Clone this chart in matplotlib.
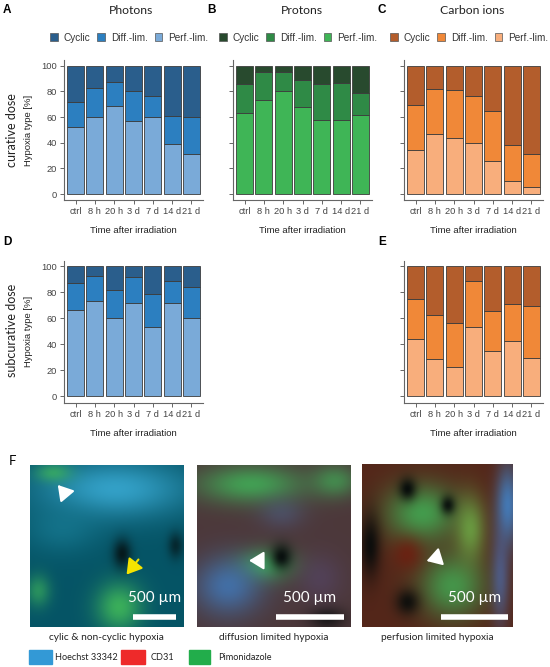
import numpy as np
import matplotlib
matplotlib.use("Agg")
import matplotlib.pyplot as plt
from matplotlib.patches import Rectangle, Patch

plt.rcParams['font.family'] = ['Liberation Sans', 'DejaVu Sans']
TITLE_FONT = ['Lato', 'DejaVu Sans']

# data, shares in % per time point
times = ["ctrl", "8 h", "20 h", "3 d", "7 d", "14 d", "21 d"]
types = ["Cyclic", "Diff.-lim.", "Perf.-lim."]

# A: photons, curative dose
ph_cur_perf = [52, 60, 69, 57, 60, 39, 31]
ph_cur_diff = [20, 22.6, 18, 23, 16.6, 22, 29]
# B: protons, curative dose
pr_cur_perf = [63, 73, 80, 68, 58, 58, 62]
pr_cur_diff = [22.7, 22.3, 15.3, 20.8, 28, 28.8, 17]
# C: carbon ions, curative dose
ca_cur_perf = [34, 47, 44, 40, 26, 10.4, 5.5]
ca_cur_diff = [35.6, 35, 37.3, 36.4, 39, 28, 26]
# D: photons, subcurative dose
ph_sub_perf = [66.5, 73.7, 60.4, 72, 53.7, 71.6, 60]
ph_sub_diff = [21, 19.1, 21.6, 19.8, 24.8, 17.4, 24]
# E: carbon ions, subcurative dose
ca_sub_perf = [44.2, 28.6, 22.8, 53.5, 35, 42.7, 29.4]
ca_sub_diff = [31, 34.3, 34, 35.5, 30.7, 28.7, 39.9]

blues = ["#2a5e8c", "#2c7fc0", "#7aaad8"]
greens = ["#284a2e", "#2f8a46", "#3fb556"]
oranges = ["#b35d2c", "#f08838", "#f8ae7c"]

W, H = 550, 667
fig = plt.figure(figsize=(W / 100, H / 100), dpi=100)


def px_axes(x0, y0, x1, y1):
    # axes from pixel box (top-left origin)
    return fig.add_axes([x0 / W, 1 - y1 / H, (x1 - x0) / W, (y1 - y0) / H])


def fig_text(x, y, s, **kw):
    fig.text(x / W, 1 - y / H, s, **kw)


def stacked(ax, perf, diff, cols, ylabels=True):
    x = np.arange(len(times))
    perf = np.array(perf)
    diff = np.array(diff)
    cyc = 100 - perf - diff
    kw = dict(width=0.88, edgecolor="#3c3c3c", linewidth=0.6)
    ax.bar(x, perf, color=cols[2], **kw)
    ax.bar(x, diff, bottom=perf, color=cols[1], **kw)
    ax.bar(x, cyc, bottom=perf + diff, color=cols[0], **kw)
    ax.set_xlim(-0.6, 6.6)
    ax.set_ylim(-5, 104.5)
    ax.set_yticks([0, 20, 40, 60, 80, 100])
    ax.set_xticks(x)
    ax.set_xticklabels(times)
    if not ylabels:
        ax.set_yticklabels([])
    for s in ["top", "right"]:
        ax.spines[s].set_visible(False)
    for s in ["left", "bottom"]:
        ax.spines[s].set_color("#666666")
        ax.spines[s].set_linewidth(0.8)
    ax.tick_params(length=3, width=0.7, color="#666666", labelsize=6.7,
                   labelcolor="#444444", pad=2)
    ax.set_xlabel("Time after irradiation", fontsize=6.8, color="#222222", labelpad=7)
    return ax


def legend(ax, cols):
    hs = [Patch(facecolor=c, edgecolor="#555555", linewidth=0.5, label=t)
          for c, t in zip(cols, types)]
    ax.legend(handles=hs, ncol=3, frameon=False, fontsize=7.2, loc="lower center",
              bbox_to_anchor=(0.47, 1.06), handlelength=0.75, handleheight=0.75,
              handletextpad=0.6, columnspacing=0.7, labelcolor="#333333")


# top row
axA = stacked(px_axes(64, 60, 203, 200.5), ph_cur_perf, ph_cur_diff, blues)
axB = stacked(px_axes(233, 60, 372, 200.5), pr_cur_perf, pr_cur_diff, greens, False)
axC = stacked(px_axes(404, 60, 543, 200.5), ca_cur_perf, ca_cur_diff, oranges, False)
legend(axA, blues)
legend(axB, greens)
legend(axC, oranges)

# second row
axD = stacked(px_axes(64, 260.5, 203, 403), ph_sub_perf, ph_sub_diff, blues)
axE = stacked(px_axes(404, 260.5, 543, 403), ca_sub_perf, ca_sub_diff, oranges, False)

for ax in (axA, axD):
    ax.set_ylabel("Hypoxia type [%]", fontsize=6.8, color="#222222", labelpad=6)

for x, s in [(131, "Photons"), (302, "Protons"), (472, "Carbon ions")]:
    fig_text(x, 10, s, fontsize=8.8, ha="center", va="center", color="#222222",
             family=TITLE_FONT)
fig_text(12, 130, "curative dose", fontsize=9, rotation=90, ha="center", va="center",
         color="#222222", family=TITLE_FONT)
fig_text(12, 330, "subcurative dose", fontsize=9, rotation=90, ha="center",
         va="center", color="#222222", family=TITLE_FONT)

for lab, x, y in [("A", 7, 10), ("B", 212, 10), ("C", 382, 10),
                  ("D", 7, 242), ("E", 382, 242)]:
    fig_text(x, y, lab, fontsize=8.5, fontweight="bold", ha="center", va="center")
fig_text(12, 461, "F", fontsize=9.5, ha="center", va="center", family=TITLE_FONT)


# panel F: stand-in for the microscopy images (smooth colour fields)
def field(base, blobs, n=120):
    yy, xx = np.mgrid[0:1:n * 1j, 0:1:n * 1j]
    img = np.ones((n, n, 3)) * np.array(base)
    for cx, cy, sx, sy, col, a in blobs:
        g = np.exp(-(((xx - cx) / sx) ** 2 + ((yy - cy) / sy) ** 2))
        img = img * (1 - a * g[..., None]) + a * g[..., None] * np.array(col)
    return np.clip(img, 0, 1)


cyan = (0.22, 0.66, 0.82)
green = (0.25, 0.72, 0.35)
dark = (0.02, 0.04, 0.04)
img1 = field((0.02, 0.33, 0.40), [
    (0.55, 0.15, 0.5, 0.18, cyan, 0.9),
    (0.2, 0.4, 0.25, 0.15, (0.1, 0.5, 0.6), 0.6),
    (0.15, 0.05, 0.12, 0.06, green, 0.7),
    (0.58, 0.88, 0.15, 0.15, green, 0.9),
    (0.05, 0.78, 0.08, 0.1, green, 0.6),
    (0.6, 0.55, 0.06, 0.09, dark, 0.8),
    (0.95, 0.5, 0.05, 0.08, dark, 0.6),
])
img2 = field((0.30, 0.22, 0.23), [
    (0.35, 0.12, 0.35, 0.12, green, 0.8),
    (0.9, 0.1, 0.15, 0.1, green, 0.6),
    (0.45, 0.62, 0.18, 0.1, green, 0.75),
    (0.2, 0.75, 0.22, 0.18, (0.25, 0.5, 0.78), 0.75),
    (0.55, 0.3, 0.15, 0.1, (0.3, 0.4, 0.6), 0.4),
    (0.55, 0.57, 0.07, 0.08, dark, 0.95),
    (0.85, 0.95, 0.12, 0.07, dark, 0.7),
    (0.8, 0.7, 0.15, 0.15, (0.35, 0.3, 0.5), 0.4),
])
img3 = field((0.33, 0.15, 0.10), [
    (0.4, 0.3, 0.25, 0.18, green, 0.8),
    (0.6, 0.75, 0.22, 0.2, green, 0.75),
    (0.72, 0.4, 0.1, 0.2, (0.45, 0.75, 0.3), 0.7),
    (0.97, 0.25, 0.08, 0.25, (0.25, 0.55, 0.85), 0.8),
    (0.92, 0.7, 0.06, 0.3, (0.3, 0.45, 0.75), 0.6),
    (0.3, 0.15, 0.06, 0.07, dark, 0.95),
    (0.05, 0.5, 0.07, 0.2, dark, 0.9),
    (0.57, 0.25, 0.05, 0.06, dark, 0.9),
    (0.3, 0.85, 0.08, 0.08, dark, 0.85),
    (0.3, 0.55, 0.1, 0.1, (0.45, 0.1, 0.05), 0.7),
])

img_boxes = [(30, 465, 183, 627), (197, 465, 351, 627), (362, 464, 513, 627)]
captions = ["cylic & non-cyclic hypoxia", "diffusion limited hypoxia",
            "perfusion limited hypoxia"]
bars = [(0.67, 0.955), (0.51, 0.955), (0.52, 0.97)]
arrows = [[((0.25, 0.2), (0.17, 0.11), "white"), ((0.72, 0.57), (0.62, 0.69), "#f5e400")],
          [((0.39, 0.59), (0.32, 0.59), "white")],
          [((0.48, 0.58), (0.41, 0.6), "white")]]

for img, box, cap, (b0, b1), arrs in zip([img1, img2, img3], img_boxes, captions,
                                         bars, arrows):
    ax = px_axes(*box)
    ax.imshow(img, extent=(0, 1, 1, 0), aspect="auto", interpolation="bilinear")
    ax.set_xlim(0, 1)
    ax.set_ylim(1, 0)
    ax.set_xticks([])
    ax.set_yticks([])
    for s in ax.spines.values():
        s.set_visible(False)
    ax.plot([b0, b1], [0.94, 0.94], color="white", lw=4, solid_capstyle="butt")
    ax.text((b0 + b1) / 2, 0.82, "500 µm", color="white", fontsize=11,
            ha="center", va="center", family=TITLE_FONT)
    for (x0, y0), (x1, y1), c in arrs:
        ax.annotate("", xy=(x1, y1), xytext=(x0, y0),
                    arrowprops=dict(arrowstyle="-|>,head_length=0.9,head_width=0.55",
                                    color=c, lw=1.5))
    fig_text((box[0] + box[2]) / 2, 637, cap, fontsize=7.3, ha="center", va="center",
             color="#222222", family=TITLE_FONT)

# channel legend
for x0, x1, c, tx, lab in [(29, 52, "#3399d6", 55, "Hoechst 33342"),
                           (121, 145, "#ee2a2a", 151, "CD31"),
                           (189, 210, "#22ad4b", 218, "Pimonidazole")]:
    fig.patches.append(Rectangle((x0 / W, 1 - 664 / H), (x1 - x0) / W, 14 / H,
                                 transform=fig.transFigure, color=c))
    fig_text(tx, 657, lab, fontsize=6.6, ha="left", va="center", color="#222222",
             family=TITLE_FONT)

fig.savefig("out.png", dpi=100)
